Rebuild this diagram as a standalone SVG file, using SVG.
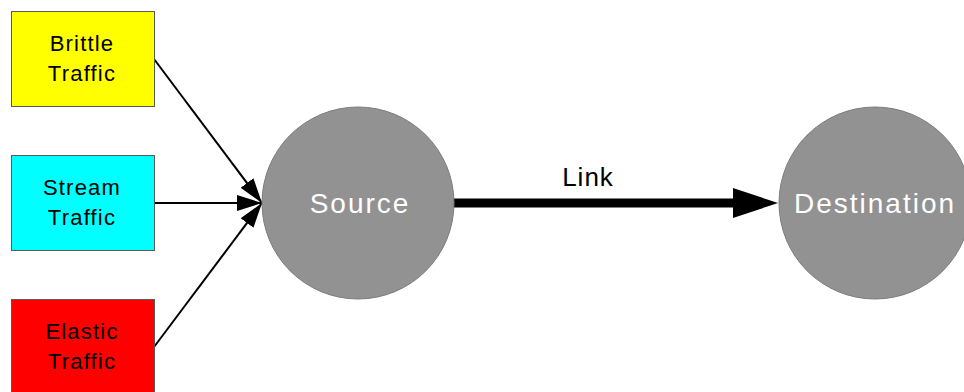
<svg xmlns="http://www.w3.org/2000/svg" width="964" height="392" viewBox="0 0 964 392">
  <style>
    .box { stroke: #5a5a5a; stroke-width: 1; }
    .box-label { font-family: "Liberation Sans", Arial, sans-serif; font-size: 22px; letter-spacing: 1.2px; fill: #000; text-anchor: middle; }
    .node { fill: #929292; stroke: #7d7d7d; stroke-width: 1; }
    .node-label { font-family: "Liberation Sans", Arial, sans-serif; font-size: 28px; letter-spacing: 2px; fill: #fff; text-anchor: middle; }
    .feed { stroke: #000; stroke-width: 2; fill: none; marker-end: url(#head-small); }
    .link { stroke: #000; stroke-width: 9; fill: none; stroke-linecap: round; marker-end: url(#head-large); }
    .link-label { font-family: "Liberation Sans", Arial, sans-serif; font-size: 26px; letter-spacing: 1px; fill: #000; text-anchor: middle; }
  </style>
  <defs>
    <marker id="head-small" markerUnits="userSpaceOnUse" viewBox="0 0 25 16" refX="25" refY="8" markerWidth="25" markerHeight="16" orient="auto">
      <path d="M0,0 L25,8 L0,16 Z" fill="#000"/>
    </marker>
    <!-- the link line stops where this head begins; the head carries on to the destination edge -->
    <marker id="head-large" markerUnits="userSpaceOnUse" viewBox="0 0 45 30" refX="0" refY="15" markerWidth="45" markerHeight="30" orient="auto">
      <path d="M0,0 L45,15 L0,30 Z" fill="#000"/>
    </marker>
  </defs>

  <rect width="964" height="392" fill="#fff"/>

  <!-- connectors -->
  <g id="connectors">
    <line class="feed" x1="154" y1="59" x2="262" y2="203"/>
    <line class="feed" x1="154" y1="203" x2="262" y2="203"/>
    <line class="feed" x1="154" y1="347" x2="262" y2="203"/>
    <line class="link" x1="454" y1="203" x2="733" y2="203"/>
    <text class="link-label" x="588" y="186">Link</text>
  </g>

  <!-- traffic sources -->
  <g id="brittle">
    <rect class="box" x="11.5" y="11.5" width="143" height="95" fill="#ffff00"/>
    <text class="box-label" x="82" y="51">Brittle</text>
    <text class="box-label" x="82" y="81">Traffic</text>
  </g>
  <g id="stream">
    <rect class="box" x="11.5" y="155.5" width="143" height="95" fill="#00ffff"/>
    <text class="box-label" x="82" y="195">Stream</text>
    <text class="box-label" x="82" y="225">Traffic</text>
  </g>
  <g id="elastic">
    <rect class="box" x="11.5" y="299.5" width="143" height="95" fill="#ff0000"/>
    <text class="box-label" x="82" y="339">Elastic</text>
    <text class="box-label" x="82" y="369">Traffic</text>
  </g>

  <!-- endpoints -->
  <g id="source">
    <circle class="node" cx="358" cy="203" r="96"/>
    <text class="node-label" x="360" y="213">Source</text>
  </g>
  <g id="destination">
    <circle class="node" cx="875" cy="203" r="96"/>
    <text class="node-label" x="875" y="213">Destination</text>
  </g>
</svg>
